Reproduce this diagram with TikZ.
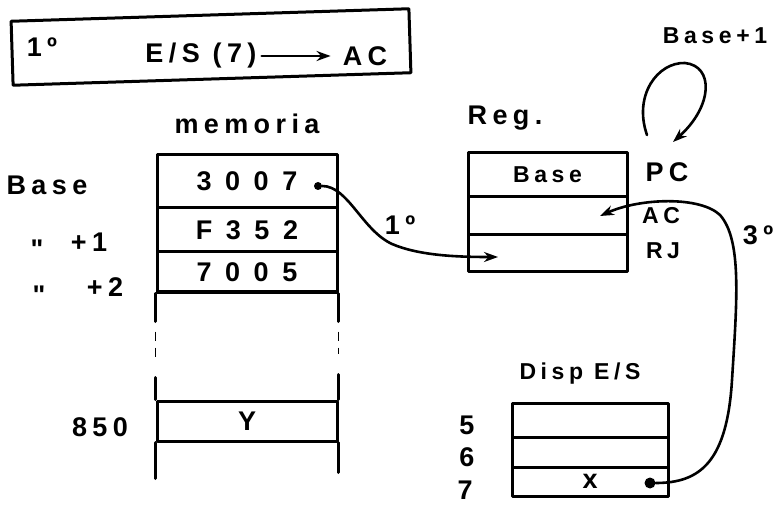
\documentclass[tikz,border=0pt]{standalone}
\usepackage{fontspec}
\setmainfont{Liberation Sans}
\newfontfamily\handfont[LetterSpace=20]{Liberation Sans Bold}
\newfontfamily\datafont[LetterSpace=50]{Liberation Sans Bold}
\usetikzlibrary{arrows.meta}

\begin{document}
\begin{tikzpicture}[x=1pt,y=-1pt,
  ink/.style={line width=3pt, line cap=round, line join=round},
  cell/.style={draw, ink, inner sep=0pt, font=\datafont\fontsize{27}{31}\selectfont},
  txt/.style={inner sep=0pt, font=\handfont\fontsize{27}{31}\selectfont},
  small/.style={inner sep=0pt, font=\handfont\fontsize{23}{27}\selectfont},
  wire/.style={line width=2.6pt, line cap=round, -{Stealth[length=14pt,width=10pt]}},
  blob/.style={circle, fill, inner sep=0pt, minimum size=#1},
  broken/.style={line width=1.4pt, dash pattern=on 9pt off 7pt},
]
\useasboundingbox (0,0) rectangle (778,518);

% ---- heading box ----
\node[draw, ink, rotate=1.8, minimum width=398pt, minimum height=64pt] (title) at (211,47) {};
\node[txt] (step) at (42,47) {1º};
\node[txt] (es) at (201,56) {E/S (7)};
\node[txt] (ac) at (365,56) {AC};
\draw[wire, shorten <=5pt, shorten >=12pt] (es.east) -- (ac.west);

% ---- memory ----
\node[txt] (memlabel) at (247,124) {memoria};
\node[cell, minimum width=180pt, minimum height=53pt] (m1) at (247,181.5) {3007};
\node[cell, minimum width=180pt, minimum height=44pt] (m2) at (247,230) {F352};
\node[cell, minimum width=180pt, minimum height=40pt] (m3) at (247,272) {7005};
\node[cell, minimum width=180pt, minimum height=40pt] (m4) at (247,421) {Y};
% side walls of the memory column, broken between the shown words
\draw[ink] (m3.south west) -- +(0,28)  (m3.south east) -- +(0,28);
\draw[broken] ([yshift=-38pt]m3.south west) -- +(0,30)
              ([yshift=-38pt]m3.south east) -- +(0,22);
\draw[ink] (m4.north west) -- +(0,-22)  (m4.north east) -- +(0,-25);
\draw[ink] (m4.south west) -- +(0,36)  (m4.south east) -- +(0,30);

% addresses
\node[txt] (base) at (47,185) {Base};
\node[txt, anchor=north] (ditto1) at (37,240) {\textquotedbl};
\node[txt] (plus1) at (89,242) {+1};
\node[txt, anchor=north] (ditto2) at (39,286) {\textquotedbl};
\node[txt] (plus2) at (105,287) {+2};
\node[txt] (a850) at (100,427) {850};

% ---- registers ----
\node[txt] (reglabel) at (505,118) {Reg.};
\node[cell, font=\handfont\fontsize{23}{27}\selectfont, minimum width=159pt, minimum height=44pt] (r1) at (547.5,175) {Base};
\node[cell, minimum width=159pt, minimum height=38pt] (r2) at (547.5,216) {};
\node[cell, minimum width=159pt, minimum height=37pt] (r3) at (547.5,253.5) {};
\node[txt] (pc) at (667,172) {PC};
\node[small] (acr) at (661,216) {AC};
\node[small] (rj) at (663,251) {RJ};

% ---- I/O device ----
\node[small] (displabel) at (580,374) {Disp E/S};
\node[cell, minimum width=156pt, minimum height=34pt] (d5) at (590,420) {};
\node[cell, minimum width=156pt, minimum height=30pt] (d6) at (590,452) {};
\node[cell, minimum width=156pt, minimum height=29pt] (d7) at (590,481.5) {x};
\node[txt] (n5) at (467,425) {5};
\node[txt] (n6) at (467,457) {6};
\node[txt] (n7) at (465,490) {7};

% ---- transfers ----
\node[blob=8pt] (src1) at (318,186) {};
\coordinate (dst1) at (498,257);
\draw[wire] (src1) .. controls (348,186) and (362,230) .. (392,244)
            .. controls (420,256) and (460,257) .. (dst1);
\node[txt] (lab1) at (400,225) {1º};

\node[blob=11pt] (src3) at (650,483) {};
\coordinate (dst3) at (600,216);
\draw[wire] (src3) .. controls (700,483) and (727,462) .. (732,380)
            .. controls (737,300) and (742,240) .. (720,215)
            .. controls (700,196) and (640,198) .. (dst3);
\node[txt] (lab3) at (758,235) {3º};

% program counter increment
\coordinate (loopstart) at (647,135);
\coordinate (loopend) at (673,142);
\draw[wire] (loopstart) .. controls (633,95) and (658,62) .. (685,63)
            .. controls (714,66) and (713,106) .. (loopend);
\node[small] (incr) at (715,36) {Base+1};
\end{tikzpicture}
\end{document}
